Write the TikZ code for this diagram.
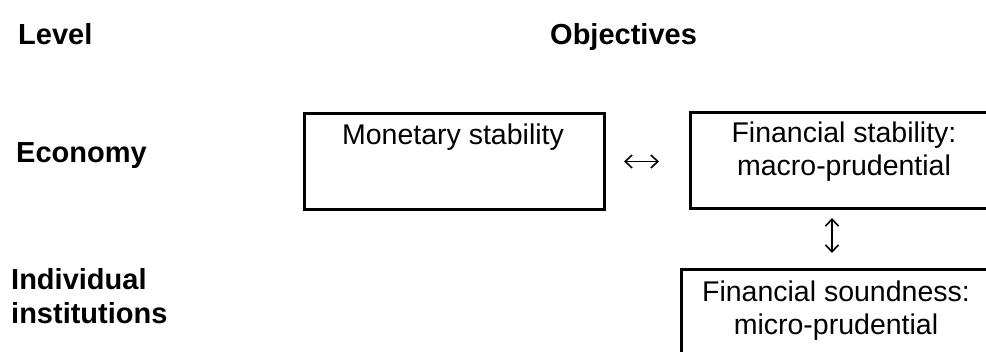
\documentclass[tikz,border=0pt]{standalone}
\usepackage{fontspec}
\setmainfont{Liberation Sans}
\usetikzlibrary{arrows.meta}
\begin{document}
\begin{tikzpicture}[x=1pt,y=-1pt,
  box/.style={draw=black, line width=3pt, inner sep=0pt, anchor=north west},
  lbl/.style={font=\fontsize{29}{34}\selectfont\bfseries, inner sep=0pt},
  txt/.style={font=\fontsize{28.5}{33}\selectfont, inner sep=0pt, anchor=base},
  dbl/.style={line width=1.6pt, {Straight Barb[length=7pt,width=13pt]}-{Straight Barb[length=7pt,width=13pt]}}]
\useasboundingbox (0,0) rectangle (986,352);
\clip (0,0) rectangle (986,352);
% headings
\node[lbl, anchor=base west] (level) at (18,45) {Level};
\node[lbl, anchor=base west] (obj) at (550,45) {Objectives};
\node[lbl, anchor=base west] (econ) at (16,163) {Economy};
\node[lbl, anchor=north west, align=left] (indiv) at (11,268) {Individual\\institutions};
% boxes
\node[box, minimum width=300pt, minimum height=96pt] (mon) at (303,112) {};
\node[box, minimum width=311pt, minimum height=96pt] (fsb) at (689,111) {};
\node[box, minimum width=312pt, minimum height=110pt] (snd) at (680,268) {};
% box texts
\node[txt] (mont) at (453,145) {Monetary stability};
\node[txt] (fst1) at (844,143) {Financial stability:};
\node[txt] (fst2) at (844,176) {macro-prudential};
\node[txt] (snd1) at (836,302) {Financial soundness:};
\node[txt] (snd2) at (836,335) {micro-prudential};
% arrows
\draw[dbl, shorten <=18pt, shorten >=30pt] (mon.east) -- (mon.east -| fsb.west);
\coordinate (udA) at (832,218);
\coordinate (udB) at (832,253);
\draw[dbl] (udA) -- (udB);
\end{tikzpicture}
\end{document}
